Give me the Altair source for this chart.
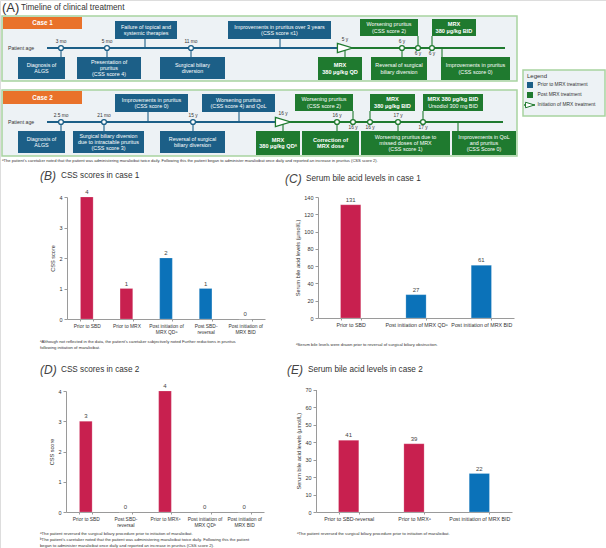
import altair as alt
import pandas as pd

W, H = 606, 548
FONT = "Liberation Sans"

# ======================= DATA =======================
# ---- Panel A: timeline of clinical treatment ----
case_names = ["Case 1", "Case 2"]

c1_ages = ["3 mo", "5 mo", "11 mo", "5 y", "6 y", "6 y", "6 y"]
c1_age_kind = ["pre", "pre", "pre", "start", "post", "post", "post"]
c1_events = [
    "Diagnosis of\nALGS",
    "Presentation of\npruritus\n(CSS score 4)",
    "Failure of topical and\nsystemic therapies",
    "Surgical biliary\ndiversion",
    "Improvements in pruritus over 3 years\n(CSS score \u22641)",
    "MRX\n380 \u00b5g/kg QD",
    "Worsening pruritus\n(CSS score 2)",
    "Reversal of surgical\nbiliary diversion",
    "MRX\n380 \u00b5g/kg BID",
    "Improvements in pruritus\n(CSS score 0)",
]
c1_event_phase = ["pre", "pre", "pre", "pre", "pre", "post", "post", "post", "post", "post"]
c1_event_weight = ["none", "none", "none", "none", "none", "all", "none", "none", "all", "none"]

c2_ages = ["2.5 mo", "21 mo", "15 y", "16 y", "16 y", "16 y", "16 y", "17 y", "17 y"]
c2_age_kind = ["pre", "pre", "pre", "start", "post", "post", "post", "post", "post"]
c2_events = [
    "Diagnosis of\nALGS",
    "Surgical biliary diversion\ndue to intractable pruritus\n(CSS score 3)",
    "Improvements in pruritus\n(CSS score 0)",
    "Reversal of surgical\nbiliary diversion",
    "Worsening pruritus\n(CSS score 4) and QoL",
    "MRX\n380 \u00b5g/kg QD\u1d43",
    "Worsening pruritus\n(CSS score 2)",
    "Correction of\nMRX dose",
    "MRX\n380 \u00b5g/kg BID",
    "Worsening pruritus due to\nmissed doses of MRX\n(CSS score 1)",
    "MRX 380 \u00b5g/kg BID\nUrsodiol 300 mg BID",
    "Improvements in QoL\nand pruritus\n(CSS Score 0)",
]
c2_event_phase = ["pre", "pre", "pre", "pre", "pre", "post", "post", "post", "post", "post", "post", "post"]
c2_event_weight = ["none", "none", "none", "none", "none", "all", "none", "all", "all", "none", "first", "none"]

legend_title = "Legend"
legend_labels = ["Prior to MRX treatment", "Post MRX treatment", "Initiation of MRX treatment"]
footnote_a = ("\u1d43The patient's caretaker noted that the patient was administering maralixibat twice daily. "
              "Following this the patient began to administer maralixibat once daily and reported an increase in pruritus (CSS score 2).")

# ---- Panel B: CSS scores in case 1 ----
b_title = ["(B)", "CSS scores in case 1"]
b_cats = ["Prior to SBD", "Prior to MRX", "Post initiation of\nMRX QD\u1d43", "Post SBD-\nreversal", "Post initiation of\nMRX BID"]
b_vals = [4, 1, 2, 1, 0]
b_phase = ["Prior", "Prior", "Post", "Post", "Post"]
b_ticks = [0, 1, 2, 3, 4]
b_notes = ["\u1d43Although not reflected in the data, the patient's caretaker subjectively noted Further reductions in pruritus",
           "following initiation of maralixibat."]

# ---- Panel C: serum bile acids case 1 ----
c_title = ["(C)", "Serum bile acid levels in case 1"]
c_cats = ["Prior to SBD", "Post initiation of MRX QD\u1d43", "Post initiation of MRX BID"]
c_vals = [131, 27, 61]
c_phase = ["Prior", "Post", "Post"]
c_ticks = [0, 20, 40, 60, 80, 100, 120, 140]
c_notes = ["\u1d43Serum bile levels were drawn prior to reversal of surgical biliary obstruction."]

# ---- Panel D: CSS scores in case 2 ----
d_title = ["(D)", "CSS scores in case 2"]
d_cats = ["Prior to SBD", "Post SBD-\nreversal", "Prior to MRX\u1d43", "Post initiation of\nMRX QD\u1d47", "Post initiation of\nMRX BID"]
d_vals = [3, 0, 4, 0, 0]
d_phase = ["Prior", "Prior", "Prior", "Post", "Post"]
d_ticks = [0, 1, 2, 3, 4]
d_notes = ["\u1d43The patient reversed the surgical biliary procedure prior to initiation of maralixibat.",
           "\u1d47The patient's caretaker noted that the patient was administering maralixibat twice daily. Following this the patient",
           "began to administer maralixibat once daily and reported an increase in pruritus (CSS score 2)."]

# ---- Panel E: serum bile acids case 2 ----
e_title = ["(E)", "Serum bile acid levels in case 2"]
e_cats = ["Prior to SBD-reversal", "Prior to MRX\u1d43", "Post initiation of MRX BID"]
e_vals = [41, 39, 22]
e_phase = ["Prior", "Prior", "Post"]
e_ticks = [0, 10, 20, 30, 40, 50, 60, 70]
e_notes = ["\u1d43The patient reversed the surgical biliary procedure prior to initiation of maralixibat."]

# ======================= LAYOUT (pixels) / STYLE =======================
DBLUE, DGREEN, ORANGE = "#1c5f87", "#1f7a2f", "#e9722a"
PANEL_FILL, PANEL_STROKE = "#edf2f5", "#a8d3a0"
RED, BLUE = "#c8204f", "#0b72b9"
TXT = "#333333"

case_box = dict(x0=[2, 2], x1=[517, 517], y0=[16, 90], y1=[81, 156])
tag_box = dict(x0=[3, 3], x1=[82, 82], y0=[17, 91], y1=[29, 104])
line_y = [48, 122]
line_x0 = [47, 47]
arrow_x = [345, 283]
line_x1 = [505, 503]

c1_age_x = [61, 107, 191, 345, 402, 418, 432]
c1_age_side = [-1, -1, -1, -1, -1, 1, 1]
c1_bx0 = [18, 77, 115, 160, 228, 318, 360, 371, 432, 441]
c1_bx1 = [65, 141, 177, 225, 331, 362, 418, 427, 476, 510]
c1_by0 = [57, 57, 21, 57, 21, 57, 19, 57, 19, 57]
c1_by1 = [79, 79, 39, 79, 39, 80, 36, 80, 36, 80]
c1_cx = [61, 107, 145, 191, 280, 345, 418, 402, 432, 442]

c2_age_x = [61, 104, 193, 283, 337, 353, 370, 398, 423]
c2_age_side = [-1, -1, -1, -1, -1, 1, 1, -1, 1]
c2_bx0 = [18, 73, 115, 160, 202, 256, 295, 302, 370, 361, 423, 452]
c2_bx1 = [65, 144, 188, 225, 275, 300, 353, 359, 415, 450, 483, 516]
c2_by0 = [131, 131, 94, 131, 94, 131, 94, 131, 94, 131, 94, 131]
c2_by1 = [153, 153, 112, 153, 112, 155, 111, 155, 111, 155, 111, 155]
c2_cx = [61, 104, 148, 193, 239, 283, 353, 337, 370, 398, 423, 458]


def PX(f):
    return alt.X(f"{f}:Q", scale=None, axis=None)


def PY(f):
    return alt.Y(f"{f}:Q", scale=None, axis=None)


PHASE_COL = alt.Scale(domain=["pre", "post"], range=[DBLUE, DGREEN])


def text_layer(rows, size, color=TXT, align="left", weight="normal", style="normal", baseline="middle"):
    return alt.Chart(pd.DataFrame(rows)).mark_text(
        font=FONT, fontSize=size, color=color, align=align, fontWeight=weight,
        fontStyle=style, baseline=baseline
    ).encode(x=PX("x"), y=PY("y"), text="t:N")


layers = []

# title A
layers.append(text_layer([{"x": 2, "y": 8, "t": "(A)"}], 13))
layers.append(text_layer([{"x": 21, "y": 8, "t": "Timeline of clinical treatment"}], 8.2))

# case panels
layers.append(alt.Chart(pd.DataFrame(case_box)).mark_rect(
    fill=PANEL_FILL, stroke=PANEL_STROKE, strokeWidth=1.5
).encode(x=PX("x0"), x2=alt.X2("x1"), y=PY("y0"), y2=alt.Y2("y1")))
layers.append(alt.Chart(pd.DataFrame(tag_box)).mark_rect(fill=ORANGE).encode(
    x=PX("x0"), x2=alt.X2("x1"), y=PY("y0"), y2=alt.Y2("y1")))
layers.append(text_layer(
    [{"x": (tag_box["x0"][i] + tag_box["x1"][i]) / 2, "y": (tag_box["y0"][i] + tag_box["y1"][i]) / 2, "t": case_names[i]}
     for i in range(2)], 6.3, color="white", align="center", weight="bold"))
layers.append(text_layer([{"x": 8, "y": line_y[i], "t": "Patient age"} for i in range(2)], 5.2))

# timeline lines
line_rows = []
for i in range(2):
    line_rows.append({"x0": line_x0[i], "x1": arrow_x[i], "y": line_y[i], "phase": "pre"})
    line_rows.append({"x0": arrow_x[i], "x1": line_x1[i], "y": line_y[i], "phase": "post"})
layers.append(alt.Chart(pd.DataFrame(line_rows)).mark_rule(strokeWidth=2).encode(
    x=PX("x0"), x2=alt.X2("x1"), y=PY("y"),
    color=alt.Color("phase:N", scale=PHASE_COL, legend=None)))

# connectors, boxes, box text
conn_rows, box_rows, line_txt = [], [], []
cases = [
    (c1_events, c1_event_phase, c1_event_weight, c1_bx0, c1_bx1, c1_by0, c1_by1, c1_cx, line_y[0]),
    (c2_events, c2_event_phase, c2_event_weight, c2_bx0, c2_bx1, c2_by0, c2_by1, c2_cx, line_y[1]),
]
for ev, ph, wt, bx0, bx1, by0, by1, cxs, ly in cases:
    for t, p, w, a, b, c, d, cx in zip(ev, ph, wt, bx0, bx1, by0, by1, cxs):
        edge = c if c > ly else d
        conn_rows.append({"x": cx, "y0": ly, "y1": edge, "phase": p})
        box_rows.append({"x0": a, "x1": b, "y0": c, "y1": d, "phase": p})
        lines = t.split("\n")
        n = len(lines)
        for k, ln in enumerate(lines):
            bold = (w == "all") or (w == "first" and k == 0)
            line_txt.append({"x": (a + b) / 2, "y": (c + d) / 2 + (k - (n - 1) / 2) * 6.4, "t": ln, "bold": bold})

layers.append(alt.Chart(pd.DataFrame(conn_rows)).mark_rule(strokeWidth=1.1).encode(
    x=PX("x"), y=PY("y0"), y2=alt.Y2("y1"),
    color=alt.Color("phase:N", scale=PHASE_COL, legend=None)))
layers.append(alt.Chart(pd.DataFrame(box_rows)).mark_rect().encode(
    x=PX("x0"), x2=alt.X2("x1"), y=PY("y0"), y2=alt.Y2("y1"),
    color=alt.Color("phase:N", scale=PHASE_COL, legend=None)))
lt = pd.DataFrame(line_txt)
layers.append(text_layer(lt[~lt["bold"]][["x", "y", "t"]].to_dict("records"), 5.4, color="white", align="center"))
layers.append(text_layer(lt[lt["bold"]][["x", "y", "t"]].to_dict("records"), 5.6, color="white", align="center", weight="bold"))

# age circles and labels
circ_rows, age_rows, arrow_rows = [], [], []
for ages, kinds, xs, sides, ly in [
    (c1_ages, c1_age_kind, c1_age_x, c1_age_side, line_y[0]),
    (c2_ages, c2_age_kind, c2_age_x, c2_age_side, line_y[1]),
]:
    for a, k, x, s in zip(ages, kinds, xs, sides):
        if k == "start":
            arrow_rows.append({"x": x, "y": ly})
            age_rows.append({"x": x, "y": ly - 8.5, "t": a})
        else:
            circ_rows.append({"x": x, "y": ly, "phase": k})
            age_rows.append({"x": x, "y": ly - 6.5 if s < 0 else ly + 5.5, "t": a})

layers.append(alt.Chart(pd.DataFrame(circ_rows)).mark_point(
    shape="circle", size=24, fill="white", fillOpacity=1, opacity=1, strokeWidth=1.3
).encode(x=PX("x"), y=PY("y"), stroke=alt.Stroke("phase:N", scale=PHASE_COL, legend=None)))
ARROW = "M-1,-0.62L1,0L-1,0.62Z"
layers.append(alt.Chart(pd.DataFrame(arrow_rows)).mark_point(
    shape=ARROW, size=230, fill="white", fillOpacity=1, opacity=1, stroke=DGREEN, strokeWidth=1.3
).encode(x=PX("x"), y=PY("y")))
layers.append(text_layer(age_rows, 4.8, align="center"))

# legend
layers.append(alt.Chart(pd.DataFrame({"x0": [523], "x1": [605], "y0": [70], "y1": [116]})).mark_rect(
    fill=PANEL_FILL, stroke=PANEL_STROKE, strokeWidth=1.5
).encode(x=PX("x0"), x2=alt.X2("x1"), y=PY("y0"), y2=alt.Y2("y1")))
layers.append(text_layer([{"x": 527, "y": 76, "t": legend_title}], 6))
layers.append(alt.Chart(pd.DataFrame({"x0": [527, 527], "x1": [533, 533], "y0": [82, 92], "y1": [88, 98],
                                      "phase": ["pre", "post"]})).mark_rect().encode(
    x=PX("x0"), x2=alt.X2("x1"), y=PY("y0"), y2=alt.Y2("y1"),
    color=alt.Color("phase:N", scale=PHASE_COL, legend=None)))
layers.append(alt.Chart(pd.DataFrame({"x0": [524], "x1": [535], "y": [105]})).mark_rule(
    strokeWidth=1.5, color=DGREEN).encode(x=PX("x0"), x2=alt.X2("x1"), y=PY("y")))
layers.append(alt.Chart(pd.DataFrame({"x": [530], "y": [105]})).mark_point(
    shape=ARROW, size=80, fill="white", fillOpacity=1, opacity=1, stroke=DGREEN, strokeWidth=1
).encode(x=PX("x"), y=PY("y")))
layers.append(text_layer([{"x": 537.5, "y": 85 + 10 * i, "t": legend_labels[i]} for i in range(3)], 4.9))

# footnote A
layers.append(text_layer([{"x": 2, "y": 161, "t": footnote_a}], 4.1))


# ======================= BAR PANELS =======================
def bar_panel(cats, vals, phases, ticks, ytitle, xr, yr, axis_x, pad, title, title_xy, notes, note_xy, lab_size):
    df = pd.DataFrame({"cat": cats, "val": vals, "phase": phases})
    xs = alt.Scale(domain=cats, range=xr, paddingInner=pad, paddingOuter=pad / 2)
    ys = alt.Scale(domain=[ticks[0], ticks[-1]], range=yr, nice=False, zero=True)
    cs = alt.Scale(domain=["Prior", "Post"], range=[RED, BLUE])
    common = dict(domainColor="#9a9a9a", tickColor="#9a9a9a", labelColor=TXT, labelFont=FONT,
                  titleFont=FONT, titleFontSize=5.6, titleFontWeight="normal",
                  titleColor=TXT, grid=False)
    bars = alt.Chart(df).mark_bar(stroke="white", strokeWidth=0.4, strokeOpacity=0.5).encode(
        x=alt.X("cat:N", sort=cats, scale=xs, title=None,
                axis=alt.Axis(orient="bottom", offset=yr[0] - H, labelAngle=0, labelOverlap=False,
                              labelLimit=300, labelExpr="split(datum.label, '\\n')", labelLineHeight=6.4,
                              labelFontSize=lab_size,
                              tickBand="extent", tickSize=2, labelPadding=2, **common)),
        y=alt.Y("val:Q", scale=ys, title=ytitle,
                axis=alt.Axis(orient="left", offset=-axis_x, values=ticks, tickSize=3, labelPadding=2,
                              labelFontSize=5.5, titlePadding=3, format="d", **common)),
        color=alt.Color("phase:N", scale=cs, legend=None),
    )
    labels = alt.Chart(df).mark_text(font=FONT, fontSize=6, color="#444", baseline="bottom", dy=-2).encode(
        x=alt.X("cat:N", sort=cats, scale=xs, axis=None),
        y=alt.Y("val:Q", scale=ys, axis=None),
        text=alt.Text("val:Q"),
    )
    out = [bars, labels]
    tx, ty = title_xy
    out.append(text_layer([{"x": tx, "y": ty, "t": title[0]}], 12, color="#444", style="italic"))
    out.append(text_layer([{"x": tx + 21, "y": ty, "t": title[1]}], 8.2))
    nx, ny = note_xy
    out.append(text_layer([{"x": nx, "y": ny + 5.8 * i, "t": n} for i, n in enumerate(notes)], 4.2))
    return out


layers += bar_panel(b_cats, b_vals, b_phase, b_ticks, "CSS score", [67, 265], [319, 197], 67, 0.68,
                    b_title, (40, 176), b_notes, (40, 342), 4.9)
layers += bar_panel(c_cats, c_vals, c_phase, c_ticks, "Serum bile acid levels (\u00b5mol/L)", [318, 514],
                    [318, 197], 318, 0.69, c_title, (285, 179), c_notes, (296, 345), 5.3)
layers += bar_panel(d_cats, d_vals, d_phase, d_ticks, "CSS score", [66, 264], [512, 391], 66, 0.68,
                    d_title, (40, 370), d_notes, (40, 534), 4.9)
layers += bar_panel(e_cats, e_vals, e_phase, e_ticks, "Serum bile acid levels (\u00b5mol/L)", [316, 512],
                    [512, 389.5], 316, 0.69, e_title, (287, 370), e_notes, (297, 534), 5.3)

chart = alt.layer(*layers).resolve_scale(
    x="independent", y="independent", color="independent", stroke="independent"
).properties(
    width=W, height=H, padding=0, autosize=alt.AutoSizeParams(type="none")
).configure_view(stroke=None).configure(font=FONT)

chart.save("out.html", embed_options={"renderer": "svg", "actions": False})
